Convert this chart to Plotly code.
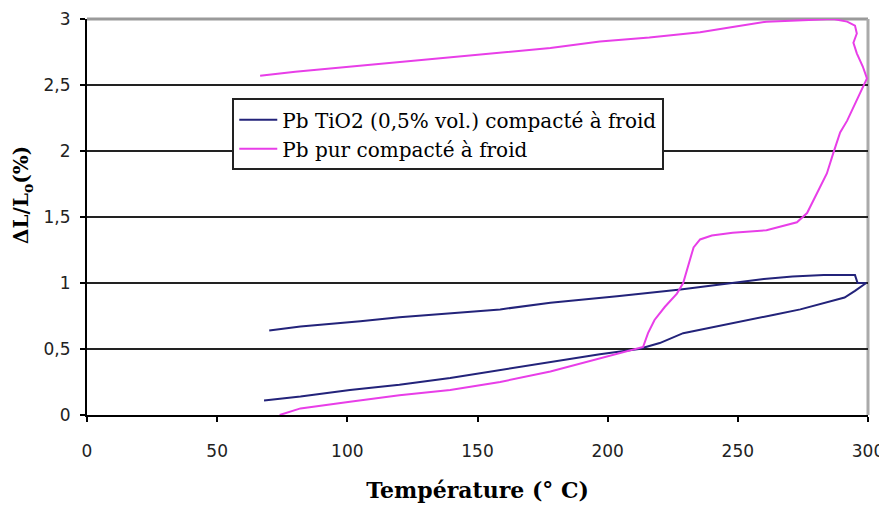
import plotly.graph_objects as go

# Pb + TiO2 (0.5% vol.), cold compacted: heating then cooling loop
temp_tio2 = [68, 82, 101, 120, 139.5, 158.7, 178, 197, 212, 220, 229, 242, 254.7, 264,
             274, 286.6, 291, 295, 298, 299.3,
             296, 295, 283, 271, 260, 244, 235.5, 228, 203.6, 178, 158.7, 120, 105, 82, 70]
dl_tio2 = [0.11, 0.14, 0.19, 0.23, 0.28, 0.34, 0.40, 0.46, 0.50, 0.545, 0.62, 0.67, 0.72, 0.76,
           0.80, 0.87, 0.89, 0.94, 0.98, 1.0,
           1.0, 1.06, 1.06, 1.05, 1.03, 0.99, 0.97, 0.95, 0.90, 0.85, 0.80, 0.74, 0.71, 0.67, 0.64]

# Pure Pb, cold compacted: heating then cooling loop
temp_pur = [74, 82, 101, 120, 139.5, 158.7, 178, 197, 207, 213.6, 215.5, 218, 222, 226.6,
            229, 231.7, 233, 235.5, 240, 248, 261, 272.7, 276.6, 280.4, 284.2, 286.6,
            289.3, 292, 295.8, 298.2, 299.6,
            298, 295.7, 294.4, 295.7, 295, 292, 286.6, 274, 261, 248, 235.5, 216, 197,
            178, 139.5, 101, 80, 66.5]
dl_pur = [0.0, 0.05, 0.10, 0.15, 0.19, 0.25, 0.33, 0.43, 0.48, 0.515, 0.62, 0.72, 0.82, 0.92,
          1.0, 1.17, 1.27, 1.33, 1.36, 1.38, 1.40, 1.46, 1.53, 1.68, 1.83, 1.98,
          2.14, 2.23, 2.39, 2.48, 2.55,
          2.64, 2.74, 2.82, 2.89, 2.95, 2.98, 3.0, 2.99, 2.98, 2.94, 2.90, 2.86, 2.83,
          2.78, 2.71, 2.64, 2.60, 2.57]

y_ticks = [0, 0.5, 1, 1.5, 2, 2.5, 3]
x_ticks = [0, 50, 100, 150, 200, 250, 300]

fig = go.Figure()
fig.add_trace(go.Scatter(x=temp_tio2, y=dl_tio2, mode='lines',
                         name='Pb TiO2 (0,5% vol.) compacté à froid',
                         line=dict(color='#23237a', width=2)))
fig.add_trace(go.Scatter(x=temp_pur, y=dl_pur, mode='lines',
                         name='Pb pur compacté à froid',
                         line=dict(color='#e83ee8', width=2)))

# the page body adds an 8px margin, so the figure is a bit smaller than the window
fig.update_layout(
    width=879, height=498,
    margin=dict(l=79, r=19, t=11, b=91, autoexpand=False),
    paper_bgcolor='white', plot_bgcolor='white',
    separators=', ',
    showlegend=True,
    legend=dict(x=0.186, y=0.80, xanchor='left', yanchor='top',
                bgcolor='white', bordercolor='#222222', borderwidth=2,
                font=dict(family='DejaVu Serif', size=20, color='black'),
                tracegroupgap=0, itemwidth=38, entrywidth=450),
    xaxis=dict(range=[0, 300], tickvals=x_ticks, showgrid=False,
               showline=True, linecolor='black', linewidth=2,
               ticks='outside', ticklen=5, tickcolor='black', tickwidth=2,
               ticklabelstandoff=15,
               tickfont=dict(family='DejaVu Sans', size=17, color='#222222'),
               title=dict(text='Température (° C)', standoff=22,
                          font=dict(family='DejaVu Serif', size=22, color='black',
                                    weight='bold')),
               zeroline=False, automargin=False),
    yaxis=dict(range=[0, 3], tickvals=y_ticks, showgrid=True,
               gridcolor='#222222', gridwidth=2,
               showline=True, linecolor='black', linewidth=2,
               ticks='outside', ticklen=5, tickcolor='black', tickwidth=2,
               ticklabelstandoff=6,
               tickfont=dict(family='DejaVu Sans', size=17, color='#222222'),
               zeroline=False, automargin=False),
    annotations=[dict(text='ΔL/L<sub>o</sub>(%)', xref='paper', yref='paper',
                      x=-0.083, y=0.556, textangle=-90, showarrow=False,
                      xanchor='center', yanchor='middle',
                      font=dict(family='DejaVu Serif', size=20, color='black',
                                weight='bold'))],
    shapes=[dict(type='line', xref='x domain', yref='y domain', x0=0, x1=1, y0=1, y1=1,
                 line=dict(color='#9a9a9a', width=3), layer='below'),
            dict(type='line', xref='x domain', yref='y domain', x0=1, x1=1, y0=0, y1=1,
                 line=dict(color='#aaaaaa', width=3), layer='below')],
)

fig.write_html("out.html")
